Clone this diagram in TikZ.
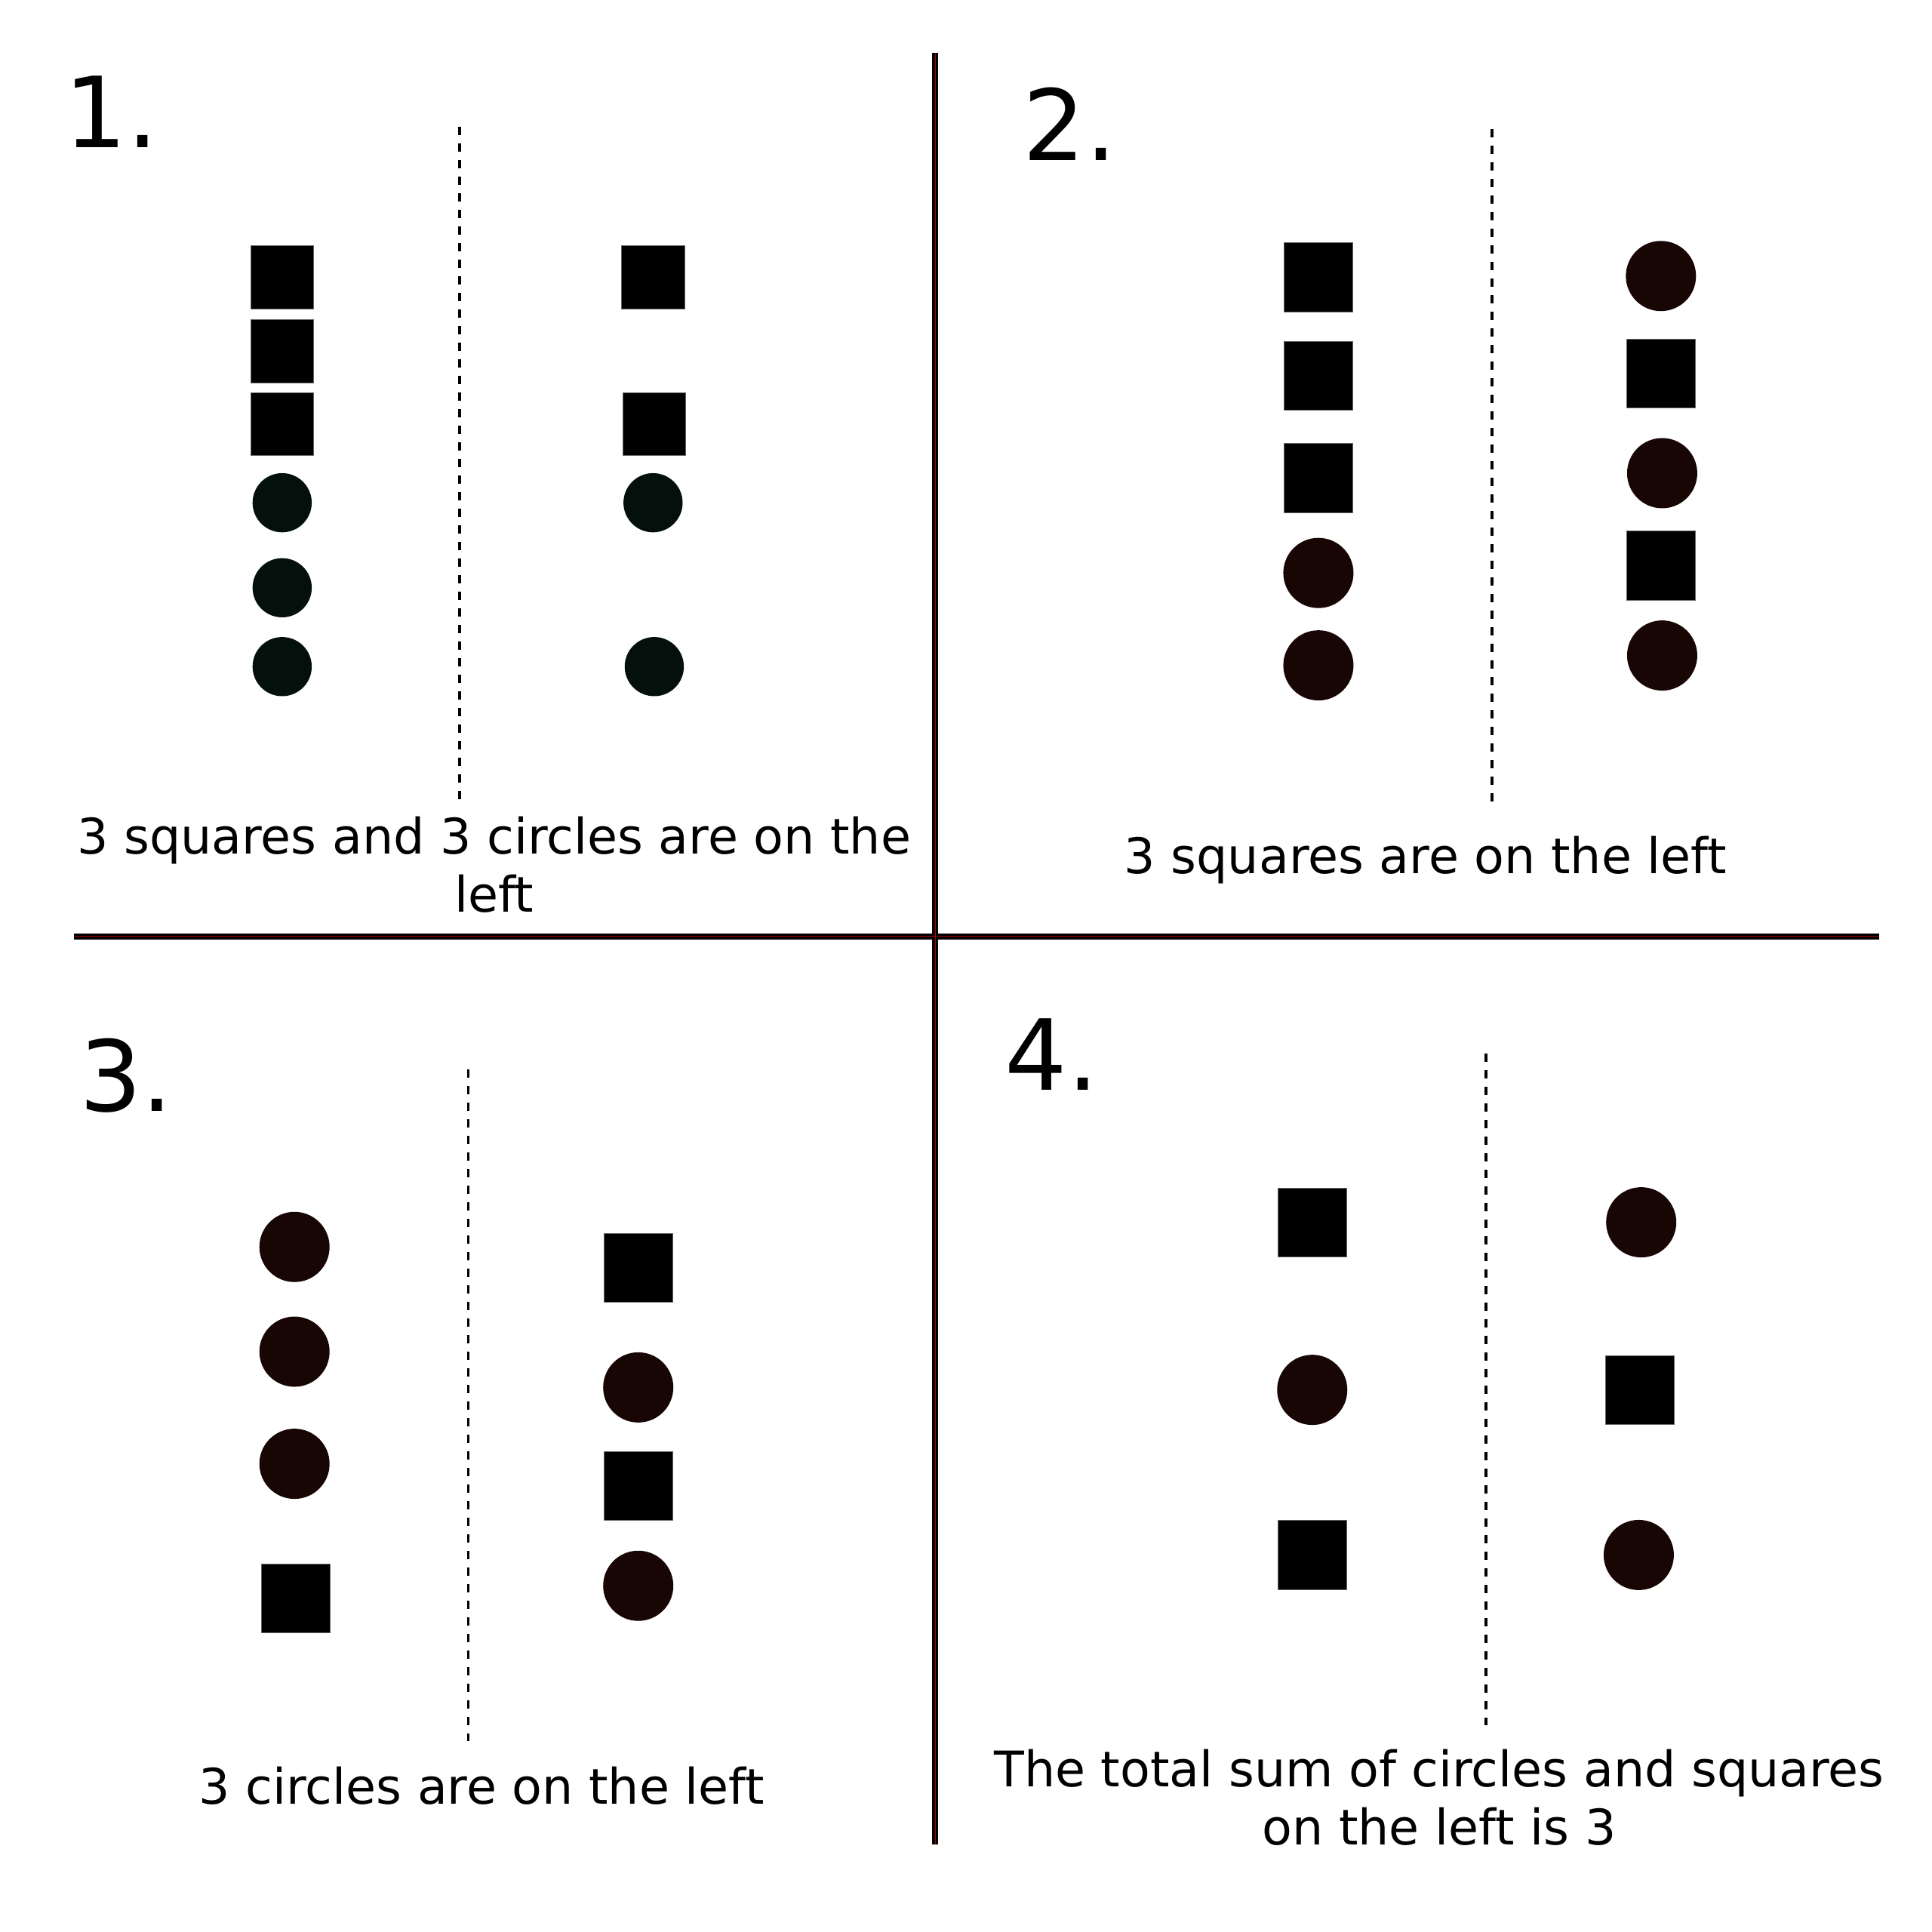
\documentclass[tikz,border=0pt]{standalone}
\usepackage{fontspec}
\setmainfont{DejaVu Sans}
\definecolor{dotA}{RGB}{4,16,12}
\definecolor{dotB}{RGB}{23,6,4}
\definecolor{sepred}{RGB}{170,0,0}
\begin{document}
\begin{tikzpicture}[x=0.016327cm,y=-0.016327cm,
  sqA/.style={fill=black,draw=black!60,line width=0.2pt,minimum size=0.833cm,inner sep=0pt,shape=rectangle},
  sqB/.style={fill=black,draw=black!60,line width=0.2pt,minimum size=0.914cm,inner sep=0pt,shape=rectangle},
  dotsA/.style={fill=dotA,draw=none,circle,minimum size=0.784cm,inner sep=0pt},
  dotsB/.style={fill=dotB,draw=none,circle,minimum size=0.93cm,inner sep=0pt},
  divider/.style={black,line width=1pt,dash pattern=on 0.11cm off 0.11cm},
  sepline/.style={black,line width=2.4pt},
  sepcore/.style={sepred,line width=0.2pt},
  caption/.style={font=\fontsize{18.5}{21.8}\selectfont,align=center,inner sep=0pt,anchor=base},
  numlabel/.style={font=\fontsize{37}{40}\selectfont,inner sep=0pt,anchor=base west}]
\useasboundingbox (0,0) rectangle (1568,1568);
\fill[white] (0,0) rectangle (1568,1568);

% separators
\coordinate (vtop) at (759,43);
\coordinate (vbot) at (759,1497);
\coordinate (hl) at (60,760);
\coordinate (hr) at (1525,760);
\draw[sepline] (vtop) -- (vbot);
\draw[sepline] (hl) -- (hr);
\draw[sepcore] (vtop) -- (vbot);
\draw[sepcore] (hl) -- (hr);

% ---------- panel 1 ----------
\node[numlabel] (n1) at (52,120) {1.};
\coordinate (d1t) at (373,103);
\coordinate (d1b) at (373,650);
\draw[divider] (d1t) -- (d1b);
\node[sqA] (p1l1) at (229,225) {};
\node[sqA] (p1l2) at (229,285) {};
\node[sqA] (p1l3) at (229,344) {};
\node[dotsA] (p1l4) at (229,408) {};
\node[dotsA] (p1l5) at (229,477) {};
\node[dotsA] (p1l6) at (229,541) {};
\node[sqA] (p1r1) at (530,225) {};
\node[sqA] (p1r2) at (531,344) {};
\node[dotsA] (p1r3) at (530,408) {};
\node[dotsA] (p1r4) at (531,541) {};
\node[caption] (t1) at (401,740) {3 squares and 3 circles are on the\\left};

% ---------- panel 2 ----------
\node[numlabel] (n2) at (830,130) {2.};
\coordinate (d2t) at (1211,105);
\coordinate (d2b) at (1211,652);
\draw[divider] (d2t) -- (d2b);
\node[sqB] (p2l1) at (1070,225) {};
\node[sqB] (p2l2) at (1070,305) {};
\node[sqB] (p2l3) at (1070,388) {};
\node[dotsB] (p2l4) at (1070,465) {};
\node[dotsB] (p2l5) at (1070,540) {};
\node[dotsB] (p2r1) at (1348,224) {};
\node[sqB] (p2r2) at (1348,303) {};
\node[dotsB] (p2r3) at (1349,384) {};
\node[sqB] (p2r4) at (1348,459) {};
\node[dotsB] (p2r5) at (1349,532) {};
\node[caption] (t2) at (1157,709) {3 squares are on the left};

% ---------- panel 3 ----------
\node[numlabel] (n3) at (64,902) {3.};
\coordinate (d3t) at (380,868);
\coordinate (d3b) at (380,1413);
\draw[divider] (d3t) -- (d3b);
\node[dotsB] (p3l1) at (239,1012) {};
\node[dotsB] (p3l2) at (239,1097) {};
\node[dotsB] (p3l3) at (239,1188) {};
\node[sqB] (p3l4) at (240,1297) {};
\node[sqB] (p3r1) at (518,1029) {};
\node[dotsB] (p3r2) at (518,1126) {};
\node[sqB] (p3r3) at (518,1206) {};
\node[dotsB] (p3r4) at (518,1287) {};
\node[caption] (t3) at (391,1464) {3 circles are on the left};

% ---------- panel 4 ----------
\node[numlabel] (n4) at (815,885) {4.};
\coordinate (d4t) at (1206,855);
\coordinate (d4b) at (1206,1400);
\draw[divider] (d4t) -- (d4b);
\node[sqB] (p4l1) at (1065,992) {};
\node[dotsB] (p4l2) at (1065,1128) {};
\node[sqB] (p4l3) at (1065,1262) {};
\node[dotsB] (p4r1) at (1332,992) {};
\node[sqB] (p4r2) at (1331,1128) {};
\node[dotsB] (p4r3) at (1330,1262) {};
\node[caption] (t4) at (1168,1497) {The total sum of circles and squares\\on the left is 3};
\end{tikzpicture}
\end{document}
